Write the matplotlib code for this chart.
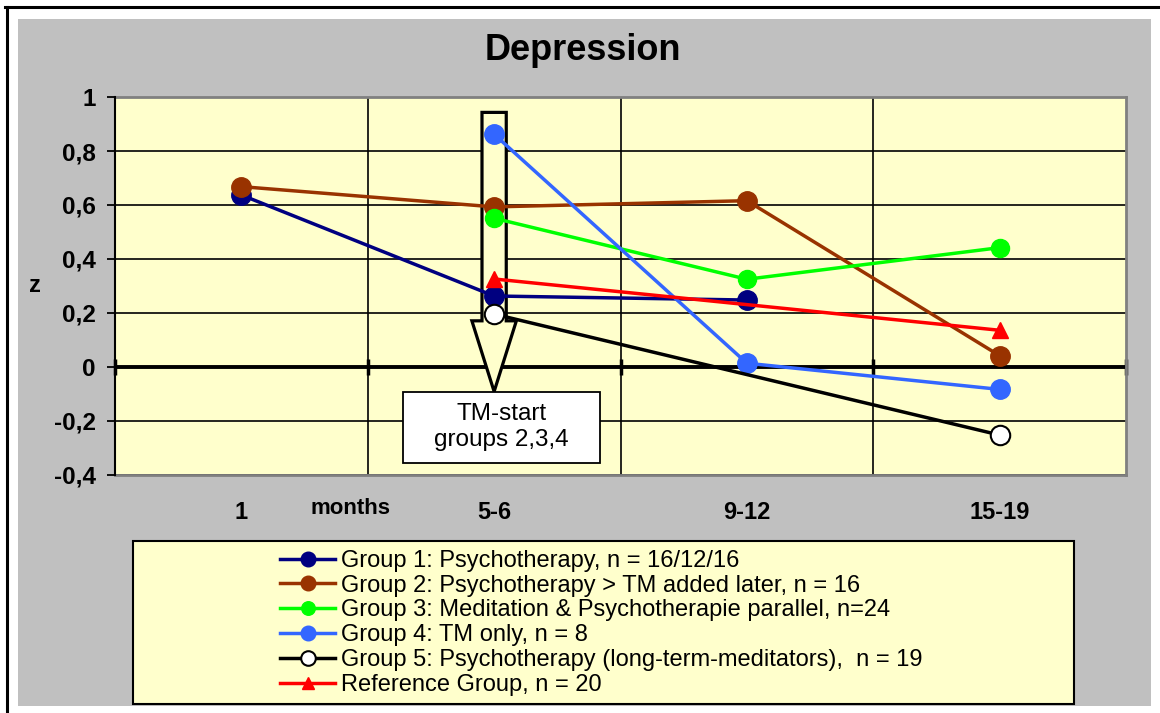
import numpy as np
import matplotlib
matplotlib.use("Agg")
import matplotlib.pyplot as plt
from matplotlib.patches import Rectangle, Polygon
from matplotlib.lines import Line2D
from matplotlib.ticker import FuncFormatter

plt.rcParams['font.family'] = ['Liberation Sans', 'DejaVu Sans']

categories = ['1', '5-6', '9-12', '15-19']
group1 = [0.637, 0.263, 0.248, None]
group2 = [0.668, 0.593, 0.616, 0.042]
group3 = [None, 0.551, 0.325, 0.442]
group4 = [None, 0.862, 0.014, -0.083]
group5 = [None, 0.196, None, -0.252]
reference = [None, 0.326, None, 0.136]

labels = [
    "Group 1: Psychotherapy, n = 16/12/16",
    "Group 2: Psychotherapy > TM added later, n = 16",
    "Group 3: Meditation & Psychotherapie parallel, n=24",
    "Group 4: TM only, n = 8",
    "Group 5: Psychotherapy (long-term-meditators),  n = 19",
    "Reference Group, n = 20",
]
yticks = [-0.4, -0.2, 0, 0.2, 0.4, 0.6, 0.8, 1.0]

W, H = 1160, 713
fig = plt.figure(figsize=(W / 100, H / 100), dpi=100, facecolor='white')

def fx(px):
    return px / W

def fy(py):
    return 1 - py / H

# gray chart area
fig.patches.append(Rectangle((fx(18), fy(706)), fx(1151) - fx(18), fy(19) - fy(706),
                             transform=fig.transFigure, facecolor='#C0C0C0',
                             edgecolor='none', zorder=-2))
fig.lines.append(Line2D([fx(5), 1], [fy(7), fy(7)], transform=fig.transFigure,
                        color='black', lw=2.2, zorder=-1))
fig.lines.append(Line2D([fx(7), fx(7)], [0, fy(7)], transform=fig.transFigure,
                        color='black', lw=2.2, zorder=-1))

ax = fig.add_axes([fx(115), fy(475), fx(1126) - fx(115), fy(97) - fy(475)])
ax.set_zorder(5)
ax.set_facecolor('#FFFFCC')

x = np.arange(len(categories))
ax.set_xlim(-0.5, len(categories) - 0.5)
ax.set_ylim(-0.4, 1.0)

# grid
for yv in yticks:
    ax.axhline(yv, color='black', lw=1.2, zorder=1)
bounds = np.arange(len(categories) + 1) - 0.5
for xv in bounds[1:-1]:
    ax.axvline(xv, color='black', lw=1.2, zorder=1)
ax.axhline(0, color='black', lw=2.8, zorder=2)
ax.plot(bounds, np.zeros_like(bounds), ls='none', marker='|', color='black',
        markersize=11, mew=2.5, zorder=2, clip_on=False)

# TM-start arrow
arrow = Polygon([(0.952, 0.943), (1.048, 0.943), (1.048, 0.171), (1.088, 0.171),
                 (1.0, -0.091), (0.912, 0.171), (0.952, 0.171)],
                closed=True, facecolor='#FFFFCC', edgecolor='black', lw=2.3, zorder=3,
                joinstyle='miter')
ax.add_patch(arrow)
ax.add_patch(Rectangle((0.641, -0.354), 1.417 - 0.641, -0.091 + 0.354,
                       facecolor='white', edgecolor='black', lw=1.3, zorder=3))
ax.text(1.029, -0.2225, "TM-start\ngroups 2,3,4", ha='center', va='center',
        fontsize=17.5, linespacing=1.25, zorder=4)

series = [
    (group1, dict(color='#000080', marker='o', mfc='#000080', mec='#000080', ms=14)),
    (group2, dict(color='#993300', marker='o', mfc='#993300', mec='#993300', ms=14)),
    (group3, dict(color='#00FF00', marker='o', mfc='#00FF00', mec='#00FF00', ms=13)),
    (group4, dict(color='#3366FF', marker='o', mfc='#3366FF', mec='#3366FF', ms=14)),
    (group5, dict(color='black', marker='o', mfc='white', mec='black', ms=14, mew=1.5)),
    (reference, dict(color='#FF0000', marker='^', mfc='#FF0000', mec='#FF0000', ms=12)),
]
handles = []
for vals, st in series:
    xs = [xi for xi, v in zip(x, vals) if v is not None]
    ys = [v for v in vals if v is not None]
    h, = ax.plot(xs, ys, lw=2.5, zorder=5, clip_on=False, **st)
    handles.append(h)

# axes styling
for side in ['top', 'right', 'bottom']:
    ax.spines[side].set_color('#808080')
    ax.spines[side].set_linewidth(2)
ax.spines['left'].set_color('black')
ax.spines['left'].set_linewidth(1.5)
ax.spines['left'].set_zorder(6)

ax.set_yticks(yticks)
ax.yaxis.set_major_formatter(FuncFormatter(
    lambda v, p: ('%g' % round(v, 1)).replace('.', ',')))
ax.tick_params(axis='y', direction='out', length=6, width=1.3, pad=8,
               labelsize=17.5)
for t in ax.get_yticklabels():
    t.set_fontweight('bold')
ax.set_xticks(x)
ax.set_xticklabels(categories, fontsize=17, fontweight='bold')
ax.tick_params(axis='x', length=0, pad=19)

fig.text(fx(351), fy(508), 'months', ha='center', va='center',
         fontsize=16, fontweight='bold')
fig.text(fx(583), fy(50), 'Depression', ha='center', va='center',
         fontsize=26, fontweight='bold')
fig.text(fx(35), fy(286), 'z', ha='center', va='center', fontsize=17,
         fontweight='bold')

# legend box
fig.patches.append(Rectangle((fx(133), fy(704)), fx(1074) - fx(133), fy(541) - fy(704),
                             transform=fig.transFigure, facecolor='#FFFFCC',
                             edgecolor='black', lw=1.5, zorder=1))
leg = fig.legend(handles, labels, loc='upper left',
                 bbox_to_anchor=(fx(268), fy(538)), frameon=False,
                 fontsize=17, labelspacing=0.12, handlelength=2.35,
                 handletextpad=0.25, borderpad=0, markerscale=0.75)
leg.set_zorder(6)

fig.savefig('out.png', dpi=100, facecolor='white')
